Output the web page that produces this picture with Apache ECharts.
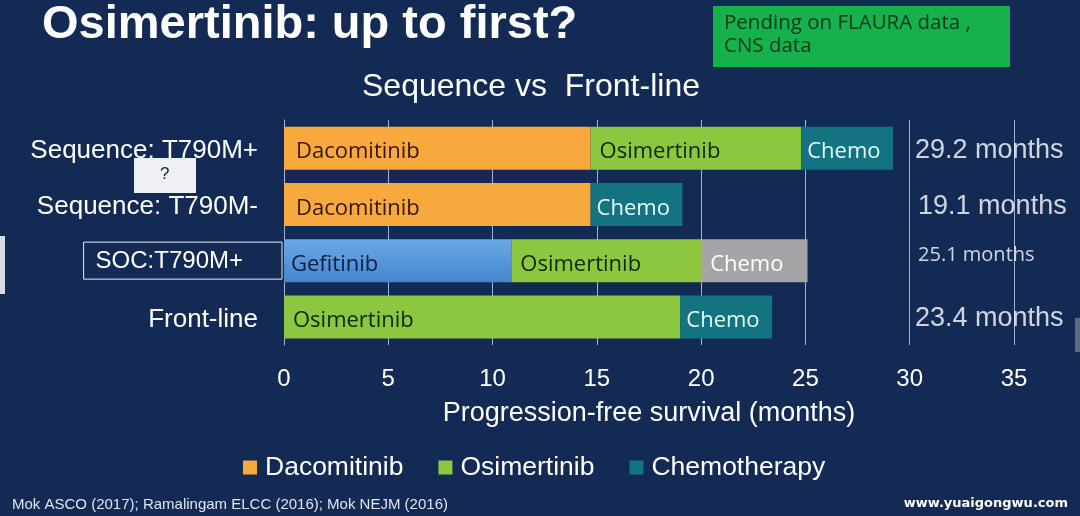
<!DOCTYPE html>
<html><head><meta charset="utf-8">
<script src="https://cdn.jsdelivr.net/npm/echarts@6/dist/echarts.min.js"></script>
<style>html,body{margin:0;padding:0;background:#132A55;}#c{width:1080px;height:516px;}</style>
</head><body><div id="c"></div>
<script>
// ---- data ----
var categories = ['Sequence: T790M+', 'Sequence: T790M-', 'SOC:T790M+', 'Front-line'];
var dacomitinib = [14.7, 14.7, null, null];
var gefitinib = [null, null, 10.9, null];
var osimertinib = [10.1, null, 9.1, 19.0];
var chemotherapy = [4.4, 4.4, null, 4.4];
var chemoSOC = [null, null, 5.1, null];
var totals = [29.2, 19.1, 25.1, 23.4];
var totalLabelPos = [30.25, 30.4, 30.4, 30.25];
var xTicks = [0, 5, 10, 15, 20, 25, 30, 35];

var FONT = 'Liberation Sans, Arial, sans-serif';
var BARFONT = 'Open Sans, Noto Sans, sans-serif';

function barLabel(name, color, offX) {
  return {
    show: true, position: 'insideLeft', distance: offX,
    formatter: name, color: color, fontSize: 22, fontFamily: BARFONT,
    offset: [0, 4]
  };
}

var chart = echarts.init(document.getElementById('c'));
var option = {
  backgroundColor: '#132A55',
  animation: false,
  title: [
    { text: 'Osimertinib: up to first?', left: 37, top: -3,
      textStyle: { color: '#ffffff', fontSize: 47, fontWeight: 'bold', fontFamily: FONT } },
    { text: 'Sequence vs  Front-line', left: 526, top: 66, textAlign: 'center',
      textStyle: { color: '#ffffff', fontSize: 32, fontWeight: 'normal', fontFamily: FONT } },
    { text: 'Mok ASCO (2017); Ramalingam ELCC (2016); Mok NEJM (2016)', left: 7, top: 492,
      textStyle: { color: '#dfe4ee', fontSize: 15, fontWeight: 'normal', fontFamily: 'Liberation Sans, Arial' } },
    { text: 'www.yuaigongwu.com', right: 7, top: 492,
      textStyle: { color: '#ffffff', fontSize: 13, fontWeight: 'bold', fontFamily: 'DejaVu Sans, sans-serif' } }
  ],
  legend: {
    data: ['Dacomitinib', 'Osimertinib', 'Chemotherapy'],
    left: 238, top: 449, itemWidth: 14, itemHeight: 14, itemGap: 35,
    icon: 'rect',
    textStyle: { color: '#ffffff', fontSize: 26.5, fontFamily: FONT, padding: [0, 0, 0, 3] }
  },
  grid: { left: 284, right: 66, top: 120, bottom: 171, containLabel: false },
  xAxis: {
    type: 'value', min: 0, max: 35, interval: 5,
    name: 'Progression-free survival (months)', nameLocation: 'middle', nameGap: 55,
    nameTextStyle: { color: '#ffffff', fontSize: 27, fontFamily: FONT },
    axisLine: { show: false }, axisTick: { show: false },
    axisLabel: { color: '#ffffff', fontSize: 24, fontFamily: FONT, margin: 22,
      formatter: function (v) { return xTicks.indexOf(v) >= 0 ? String(v) : ''; } },
    splitLine: { show: true, lineStyle: { color: '#a5b5d0', width: 1 } }
  },
  yAxis: {
    type: 'category', data: categories, inverse: true,
    axisLine: { show: true, lineStyle: { color: '#a5b5d0', width: 1 } },
    axisTick: { show: false },
    axisLabel: {
      margin: 2,
      formatter: function (v) {
        return v.indexOf('SOC') === 0 ? '{b|' + v + '}' : '{n|' + v + '}';
      },
      rich: {
        n: { color: '#ffffff', fontSize: 26, fontFamily: FONT, padding: [5, 24, 0, 0] },
        b: { color: '#ffffff', fontSize: 24, fontFamily: FONT, borderColor: '#e8ecf3', borderWidth: 1,
             padding: [7, 39, 6, 12] }
      }
    }
  },
  graphic: [
    { type: 'rect', left: 713, top: 6, shape: { width: 297, height: 61 },
      style: { fill: '#16B04C' } },
    { type: 'text', left: 724, top: 12,
      style: { text: 'Pending on FLAURA data ,\nCNS data', fill: '#0b3a1a', fontSize: 20.5,
               lineHeight: 23, fontFamily: 'Open Sans, Noto Sans, sans-serif' } },
    { type: 'rect', left: 134, top: 158, shape: { width: 62, height: 35 },
      style: { fill: '#eef0f4' } },
    { type: 'text', left: 160, top: 166,
      style: { text: '?', fill: '#222222', fontSize: 17, fontFamily: FONT } },
    { type: 'rect', left: 0, top: 236, shape: { width: 5, height: 58 },
      style: { fill: '#d9dde3' } },
    { type: 'rect', left: 1075, top: 318, shape: { width: 5, height: 34 },
      style: { fill: '#5d6a80' } }
  ],
  series: [
    { name: 'Dacomitinib', type: 'bar', stack: 'pfs', barWidth: 43, data: dacomitinib,
      itemStyle: { color: '#F8A93E' }, label: barLabel('Dacomitinib', '#3a1505', 12) },
    { name: 'Gefitinib', type: 'bar', stack: 'pfs', data: gefitinib,
      itemStyle: { color: new echarts.graphic.LinearGradient(0, 0, 0, 1, [
        { offset: 0, color: '#6AA8E6' }, { offset: 1, color: '#4585CE' }]) },
      label: barLabel('Gefitinib', '#0c1f3d', 7) },
    { name: 'Osimertinib', type: 'bar', stack: 'pfs', data: osimertinib,
      itemStyle: { color: '#8DC63F' }, label: barLabel('Osimertinib', '#0b2a0c', 9) },
    { name: 'Chemotherapy', type: 'bar', stack: 'pfs', data: chemotherapy,
      itemStyle: { color: '#137480' }, label: barLabel('Chemo', '#e6fbff', 6) },
    { name: 'Chemo SOC', type: 'bar', stack: 'pfs', data: chemoSOC,
      itemStyle: { color: '#A5A5A8' }, label: barLabel('Chemo', '#ffffff', 9) },
    { name: 'Totals', type: 'scatter', symbolSize: 0, silent: true,
      data: totals.map(function (t, i) { return [totalLabelPos[i], categories[i], t]; }),
      label: { show: true, position: 'right', distance: 0, color: '#ffffff', fontFamily: FONT,
        formatter: function (p) {
          var small = p.dataIndex === 2;
          return (small ? '{s|' : '{l|') + p.value[2].toFixed(1) + ' months}';
        },
        rich: { l: { fontSize: 27, color: '#ffffff', fontFamily: FONT, padding: [4, 0, 0, 0] },
                s: { fontSize: 20, color: '#ffffff', fontFamily: 'Open Sans, Noto Sans, sans-serif', padding: [0, 0, 10, 0] } } } }
  ]
};
chart.setOption(option);
</script>
</body></html>
